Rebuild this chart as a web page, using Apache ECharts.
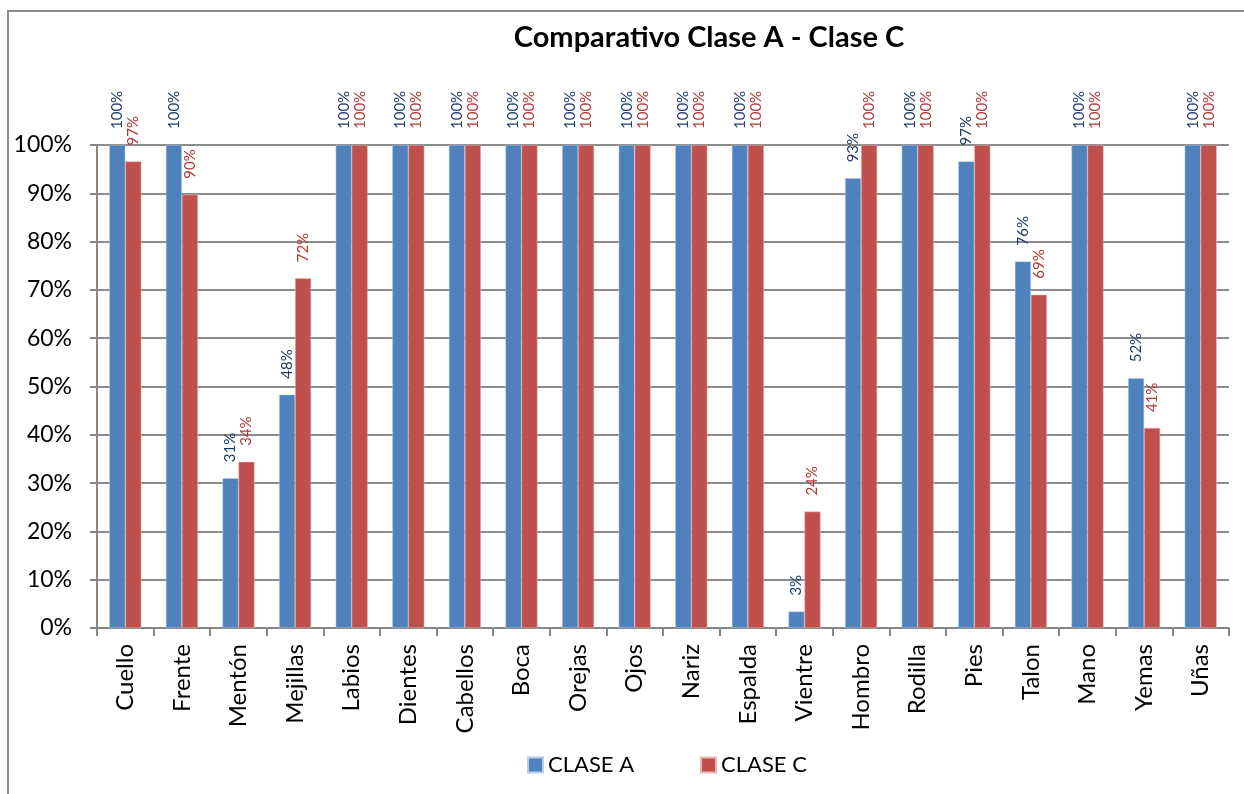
<!DOCTYPE html>
<html>
<head>
  <meta charset="UTF-8">
  <title>Comparativo Clase A - Clase C</title>
  <script src="https://cdn.jsdelivr.net/npm/echarts@6/dist/echarts.min.js"></script>
  <style>
    html, body { margin: 0; padding: 0; background: #fff; }
    #chart { width: 1244px; height: 794px; }
  </style>
</head>
<body>
<div id="chart"></div>
<script type="text/javascript">
  var categories = ['Cuello','Frente','Mentón','Mejillas','Labios','Dientes','Cabellos','Boca','Orejas','Ojos',
    'Nariz','Espalda','Vientre','Hombro','Rodilla','Pies','Talon','Mano','Yemas','Uñas'];
  var claseA = [100, 100, 31.0, 48.3, 100, 100, 100, 100, 100, 100,
    100, 100, 3.4, 93.1, 100, 96.6, 75.9, 100, 51.7, 100];
  var claseC = [96.6, 89.7, 34.4, 72.4, 100, 100, 100, 100, 100, 100,
    100, 100, 24.1, 100, 100, 100, 69.0, 100, 41.4, 100];
  var yTicks = [0, 10, 20, 30, 40, 50, 60, 70, 80, 90, 100];

  var font = 'Lato, "Liberation Sans", sans-serif';
  var chart = echarts.init(document.getElementById('chart'));

  function labelFor(color){
    return {
      show: true,
      position: 'top',
      rotate: 90,
      align: 'left',
      verticalAlign: 'middle',
      distance: 16,
      color: color,
      fontFamily: font,
      fontSize: 15,
      formatter: function(p){ return Math.round(p.value) + '%'; }
    };
  }

  chart.setOption({
    animation: false,
    graphic: [{
      type: 'rect',
      shape: { x: 8, y: 11, width: 1300, height: 900 },
      style: { fill: 'none', stroke: '#8c8c8c', lineWidth: 2 },
      silent: true
    }],
    title: {
      text: 'Comparativo Clase A - Clase C',
      left: 704,
      top: 18,
      textAlign: 'center',
      textStyle: { fontFamily: font, fontWeight: 'bold', fontSize: 29, color: '#000' }
    },
    legend: {
      data: ['CLASE A', 'CLASE C'],
      left: 522,
      top: 749,
      icon: 'rect',
      itemWidth: 15,
      itemHeight: 15,
      itemGap: 66,
      textStyle: { fontFamily: font, fontSize: 22, color: '#000' }
    },
    grid: { left: 97, right: 15, top: 145, bottom: 166 },
    xAxis: {
      type: 'category',
      data: categories,
      axisLine: { lineStyle: { color: '#868686', width: 2 } },
      axisTick: { show: true, length: 8, lineStyle: { color: '#868686', width: 2 } },
      axisLabel: {
        rotate: 90,
        interval: 0,
        margin: 16,
        color: '#000',
        fontFamily: font,
        fontSize: 24
      }
    },
    yAxis: {
      type: 'value',
      min: 0,
      max: 100,
      interval: 10,
      axisLine: { show: true, lineStyle: { color: '#868686', width: 2 } },
      axisTick: { show: true, length: 7, lineStyle: { color: '#868686', width: 2 } },
      splitLine: { lineStyle: { color: '#8c8c8c', width: 2 } },
      axisLabel: {
        margin: 25,
        color: '#000',
        fontFamily: font,
        fontSize: 23,
        formatter: function(v){ return yTicks.indexOf(v) >= 0 ? v + '%' : ''; }
      }
    },
    series: [
      {
        name: 'CLASE A',
        type: 'bar',
        data: claseA,
        barWidth: 16,
        barGap: '0%',
        itemStyle: { color: '#4f81bd', borderColor: '#b9cde5', borderWidth: 0.5 },
        label: labelFor('#1f3d6b')
      },
      {
        name: 'CLASE C',
        type: 'bar',
        data: claseC,
        barWidth: 16,
        itemStyle: { color: '#c0504d', borderColor: '#e6b9b8', borderWidth: 0.5 },
        label: labelFor('#b03a37')
      }
    ]
  });
</script>
</body>
</html>
